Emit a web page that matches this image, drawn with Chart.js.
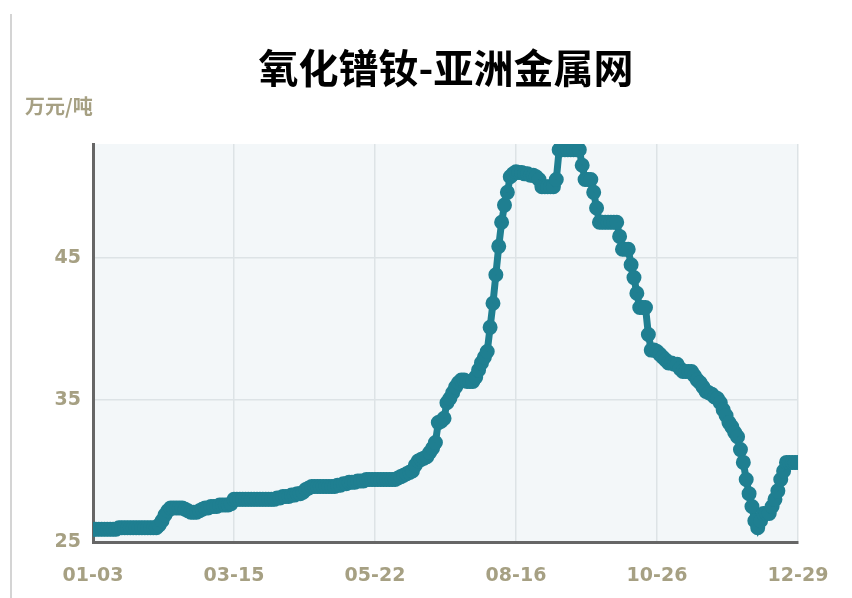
<!DOCTYPE html>
<html>
<head>
<meta charset="utf-8">
<script src="https://cdn.jsdelivr.net/npm/chart.js@4"></script>
<style>
  body { margin: 0; background: #fff; }
  #wrap { position: relative; width: 852px; height: 598px; }
  #frame { position: absolute; left: 10px; top: 14px; width: 2px; height: 584px; background: #d4d4d4; }
</style>
</head>
<body>
<div id="wrap">
  <div id="frame"></div>
  <canvas id="priceChart" width="852" height="598"></canvas>
</div>
<script>
// 氧化镨钕 price, 万元/吨, one value per trading day
const chartTitle = '氧化镨钕-亚洲金属网';
const unitLabel = '万元/吨';
const tickLabels = ['01-03', '03-15', '05-22', '08-16', '10-26', '12-29'];
const yTicks = [25, 35, 45];
const prices = [
  25.9, 25.9, 25.9, 25.9, 25.9, 25.9, 25.9, 25.9, 25.9, 26.0,
  26.0, 26.0, 26.0, 26.0, 26.0, 26.0, 26.0, 26.0, 26.0, 26.0,
  26.0, 26.0, 26.0, 26.2, 26.5, 26.9, 27.2, 27.4, 27.4, 27.4,
  27.4, 27.4, 27.3, 27.2, 27.1, 27.1, 27.1, 27.2, 27.3, 27.4,
  27.4, 27.5, 27.5, 27.5, 27.6, 27.6, 27.6, 27.6, 27.7, 28.0,
  28.0, 28.0, 28.0, 28.0, 28.0, 28.0, 28.0, 28.0, 28.0, 28.0,
  28.0, 28.0, 28.0, 28.0, 28.1, 28.1, 28.2, 28.2, 28.2, 28.3,
  28.3, 28.4, 28.4, 28.5, 28.7, 28.8, 28.9, 28.9, 28.9, 28.9,
  28.9, 28.9, 28.9, 28.9, 28.9, 29.0, 29.0, 29.1, 29.1, 29.2,
  29.2, 29.2, 29.3, 29.3, 29.3, 29.4, 29.4, 29.4, 29.4, 29.4,
  29.4, 29.4, 29.4, 29.4, 29.4, 29.4, 29.5, 29.6, 29.7, 29.8,
  29.9, 30.0, 30.4, 30.7, 30.8, 30.9, 31.0, 31.3, 31.6, 32.0,
  33.4, 33.5, 33.7, 34.8, 35.1, 35.5, 35.9, 36.2, 36.4, 36.4,
  36.3, 36.3, 36.3, 36.6, 37.1, 37.6, 38.0, 38.4, 40.1, 41.8,
  43.8, 45.8, 47.5, 48.7, 49.6, 50.7, 50.9, 51.05, 51.0, 51.0,
  50.9, 50.9, 50.8, 50.8, 50.7, 50.5, 50.0, 50.0, 50.0, 50.0,
  50.0, 50.5, 52.6, 52.6, 52.6, 52.6, 52.6, 52.6, 52.6, 52.6,
  51.5, 50.5, 50.5, 50.5, 49.6, 48.5, 47.5, 47.5, 47.5, 47.5,
  47.5, 47.5, 47.5, 46.5, 45.6, 45.6, 45.6, 44.5, 43.6, 42.5,
  41.5, 41.5, 41.5, 39.6, 38.5, 38.5, 38.4, 38.2, 38.0, 37.8,
  37.6, 37.6, 37.5, 37.5, 37.2, 37.0, 37.0, 37.0, 37.0, 36.7,
  36.4, 36.2, 35.9, 35.6, 35.5, 35.4, 35.2, 35.1, 34.8, 34.3,
  33.9, 33.4, 33.1, 32.7, 32.4, 31.5, 30.6, 29.4, 28.4, 27.5,
  26.5, 26.0, 26.5, 27.0, 27.0, 27.0, 27.5, 28.0, 28.6, 29.4,
  30.0, 30.6, 30.6, 30.6, 30.6, 30.6
];

const tickStep = (prices.length - 1) / (tickLabels.length - 1);
const labelColor = '#a6a083';
const lineColor = '#1f7f91';

// plot background + title and unit text
const decorations = {
  id: 'decorations',
  beforeDraw(chart) {
    const { ctx, chartArea: a } = chart;
    ctx.save();
    ctx.fillStyle = '#f3f7f9';
    ctx.fillRect(a.left, a.top, a.right - a.left, a.bottom - a.top);
    ctx.restore();
  },
  afterDraw(chart) {
    const ctx = chart.ctx;
    ctx.save();
    ctx.textBaseline = 'middle';
    ctx.fillStyle = '#000';
    ctx.textAlign = 'center';
    ctx.font = 'bold 40px "Noto Sans CJK SC"';
    ctx.fillText(chartTitle, 446, 68);
    ctx.fillStyle = labelColor;
    ctx.textAlign = 'left';
    ctx.font = 'bold 20px "Noto Sans CJK SC"';
    ctx.fillText(unitLabel, 25, 106);
    ctx.restore();
  }
};

new Chart(document.getElementById('priceChart'), {
  type: 'line',
  data: {
    datasets: [{
      data: prices.map((v, i) => ({ x: i, y: v })),
      borderColor: lineColor,
      backgroundColor: lineColor,
      borderWidth: 7,
      pointRadius: 4,
      pointHoverRadius: 4,
      tension: 0
    }]
  },
  options: {
    responsive: false,
    animation: false,
    layout: { padding: { top: 144, right: 54, left: 0, bottom: 0 } },
    plugins: {
      legend: { display: false },
      tooltip: { enabled: false }
    },
    scales: {
      x: {
        type: 'linear',
        min: 0,
        max: prices.length - 1,
        afterFit: s => { s.height = 56; },
        afterBuildTicks: s => {
          s.ticks = tickLabels.map((t, i) => ({ value: i * tickStep }));
        },
        ticks: {
          padding: 23,
          color: labelColor,
          font: { family: 'DejaVu Sans', weight: 'bold', size: 19 },
          callback: v => tickLabels[Math.round(v / tickStep)]
        },
        grid: { color: '#dde3e6', lineWidth: 1.5, drawTicks: false },
        border: { color: '#666', width: 3 }
      },
      y: {
        min: 25,
        max: 53,
        afterFit: s => { s.width = 93; },
        afterBuildTicks: s => {
          s.ticks = yTicks.map(v => ({ value: v }));
        },
        ticks: {
          padding: 12,
          color: labelColor,
          font: { family: 'DejaVu Sans', weight: 'bold', size: 19 }
        },
        grid: { color: '#dde3e6', lineWidth: 1.5, drawTicks: false },
        border: { color: '#666', width: 3 }
      }
    }
  },
  plugins: [decorations]
});
</script>
</body>
</html>
